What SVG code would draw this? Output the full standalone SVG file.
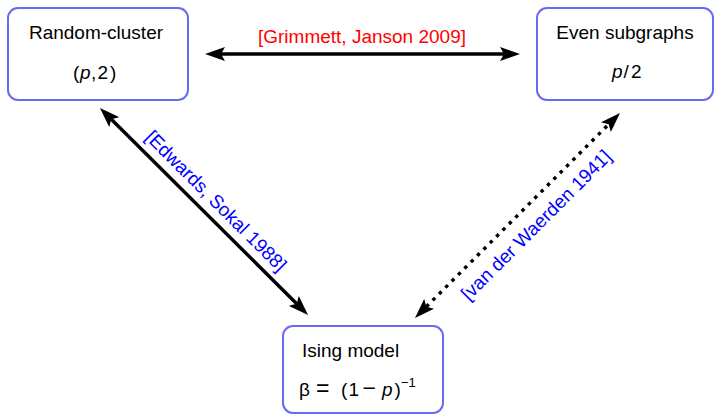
<svg xmlns="http://www.w3.org/2000/svg" width="715" height="416" viewBox="0 0 715 416">
<style>
.box{fill:#fff;stroke:#6a6af0;stroke-width:2}
.t{font-family:"Liberation Sans",Arial,sans-serif;font-size:19px;fill:#000}
.c{text-anchor:middle}
.it{font-style:italic}
.conn{fill:none;stroke:#000;stroke-width:3.4}
.dot{stroke-dasharray:3.5 5.5}
.blue{fill:#0000ff}
.red{fill:#ff0000}
</style>
<defs>
<marker id="ah" viewBox="0 0 20 14" refX="4" refY="7" markerWidth="20" markerHeight="14" markerUnits="userSpaceOnUse" orient="auto-start-reverse">
<path d="M0,0 L20,7 L0,14 L4,7 z" fill="#000"/>
</marker>
</defs>
<g id="connectors">
<line class="conn" x1="221" y1="54" x2="504" y2="54" marker-start="url(#ah)" marker-end="url(#ah)"/>
<line class="conn" x1="111.3" y1="119.3" x2="296.7" y2="303.7" marker-start="url(#ah)" marker-end="url(#ah)"/>
<line class="conn dot" x1="426.3" y1="306.7" x2="608.7" y2="124.3" marker-start="url(#ah)" marker-end="url(#ah)"/>
<text class="t c red" x="362" y="43">[Grimmett, Janson 2009]</text>
<text class="t c blue" transform="translate(211.4,205.5) rotate(45)">[Edwards, Sokal 1988]</text>
<text class="t c blue" transform="translate(540.7,229.7) rotate(-45)">[van der Waerden 1941]</text>
</g>
<g id="random-cluster">
<rect class="box" x="8" y="8" width="180" height="92" rx="10"/>
<text class="t c" x="96" y="39">Random-cluster</text>
<text class="t" y="79"><tspan x="73">(</tspan><tspan x="80" class="it">p</tspan><tspan x="91">,</tspan><tspan x="97.5">2</tspan><tspan x="110">)</tspan></text>
</g>
<g id="even-subgraphs">
<rect class="box" x="537" y="8" width="176" height="92" rx="10"/>
<text class="t c" x="625" y="39">Even subgraphs</text>
<text class="t" y="78"><tspan x="612" class="it">p</tspan><tspan x="623.5">/</tspan><tspan x="631">2</tspan></text>
</g>
<g id="ising">
<rect class="box" x="283" y="326" width="160" height="87" rx="10"/>
<text class="t" x="302" y="357">Ising model</text>
<text class="t" y="396"><tspan x="299">β</tspan><tspan x="316" font-size="23">=</tspan><tspan x="341">(</tspan><tspan x="348.5">1</tspan><tspan x="362.5" font-size="23">−</tspan><tspan x="382" class="it">p</tspan><tspan x="394.5">)</tspan><tspan x="401" y="387" font-size="13">−1</tspan></text>
</g>
</svg>
